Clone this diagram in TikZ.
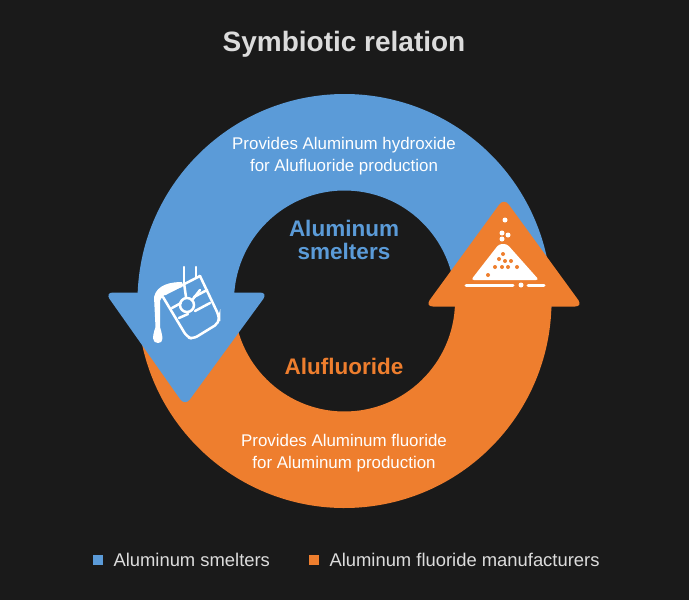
\documentclass[tikz,border=0pt]{standalone}
\usepackage{fontspec}
\usetikzlibrary{calc}
\setmainfont{Liberation Sans}
\definecolor{bgblack}{HTML}{1A1A1A}
\definecolor{smblue}{HTML}{5B9BD8}
\definecolor{aforange}{HTML}{EE7E2E}
\definecolor{ltgray}{HTML}{DCDCDC}
\tikzset
{
    % Style for the two arrow heads
    arrow head/.style=
    {
        rounded corners=8pt
    },
    % Style for the texts on the ring
    ring text/.style=
    {
        white,
        align=center,
        font=\fontsize{16.9}{21.5}\selectfont
    },
    % Style for the names in the middle
    center text/.style=
    {
        align=center,
        font=\fontsize{22.5}{23.5}\selectfont\bfseries
    },
    % Style for the legend
    legend text/.style=
    {
        ltgray,
        anchor=west,
        font=\fontsize{18.4}{20}\selectfont
    },
    % Style for the white lines of the bucket
    icon line/.style=
    {
        white,
        line width=2.5pt,
        line cap=round
    },
    % Style for the holes in the heap
    heap hole/.style=
    {
        fill=aforange,
        radius=2
    },
    % Style for the loose grains
    grain/.style=
    {
        fill=white,
        radius=2.5
    }
}

\begin{document}
\begin{tikzpicture}[x=1pt,y=-1pt]
    % One unit is one pixel of the picture
    \path [use as bounding box,fill=bgblack] (0,0) rectangle (689,600);

    \def\router{207}
    \def\rinner{110.5}
    \coordinate (c) at (344.5,301);

    % Title
    \node (title) at (344,44.5) [ltgray,font=\fontsize{28}{32}\selectfont\bfseries] {Symbiotic relation};

    % Draw ring
    \fill[smblue] (c) ++(180:\router) arc (180:362:\router) -- ($(c)+(362:\rinner)$) arc (362:180:\rinner) -- cycle;
    \fill[aforange] (c) ++(176:\router) arc (176:-2:\router) -- ($(c)+(-2:\rinner)$) arc (-2:176:\rinner) -- cycle;

    % Draw arrow heads
    \fill[aforange,arrow head] (504,198) -- (583,306.5) -- (425,306.5) -- cycle;
    \fill[smblue,arrow head] (185,406) -- (105,292.5) -- (268,292.5) -- cycle;

    % Bucket icon
    %% Bucket
    \draw[icon line,rounded corners=5pt] (163,297) -- (187,337) -- (193,339) -- (219,323) -- (219,316) -- (200,276);
    \draw[icon line] (165,294) -- (200,276);
    %% Hanger
    \draw[icon line] (184,267) -- (184,284);
    \draw[icon line] (196,267) -- (196,278);
    \draw[icon line] (187,305) circle (7);
    \draw[icon line] (184,283) -- (186,297);
    \draw[icon line] (200,290) -- (193,299);
    \draw[icon line] (172,308) -- (181,303);
    \draw[icon line] (194,297) -- (207,290);
    \draw[icon line] (179,318) -- (188,314) (195,311) -- (210,303);
    %% Stream
    \fill[white] (182,282) .. controls (172,282) and (157,284) .. (154,297) -- (155.5,327)
        .. controls (152,337) and (152,343) .. (158,343) .. controls (164,343) and (163,337) .. (160,327)
        -- (160,301) .. controls (162,294) and (172,291) .. (182,287) -- cycle;

    % Heap icon
    \fill[white,rounded corners=3pt] (471,280) -- (499,244) -- (507,244) -- (539,280) -- cycle;
    \foreach \hx/\hy in {503/254,499/259,505/261,511/261,495/267,502/267,508/267,517/267,488/275}
        \fill[heap hole] (\hx,\hy) circle;
    \foreach \gx/\gy in {505/220,502/233,508/235,502/239,521/285}
        \fill[grain] (\gx,\gy) circle;
    \draw[icon line,line width=3pt] (466,285) -- (513,285);
    \draw[icon line,line width=3pt] (528,285) -- (544,285);

    % Texts
    \node (blue text) at (344,156) [ring text] {Provides Aluminum hydroxide\\for Alufluoride production};
    \node (orange text) at (344,453) [ring text] {Provides Aluminum fluoride\\for Aluminum production};
    \node (smelters) at (344,240) [center text,smblue] {Aluminum\\smelters};
    \node (alufluoride) at (344,366.5) [center text,aforange] {Alufluoride};

    % Legend
    \fill[smblue] (93,555) rectangle (103,565);
    \node (legend blue) at (110,560) [legend text] {Aluminum smelters};
    \fill[aforange] (309,555) rectangle (319,565);
    \node (legend orange) at (326,560) [legend text] {Aluminum fluoride manufacturers};
\end{tikzpicture}
\end{document}
